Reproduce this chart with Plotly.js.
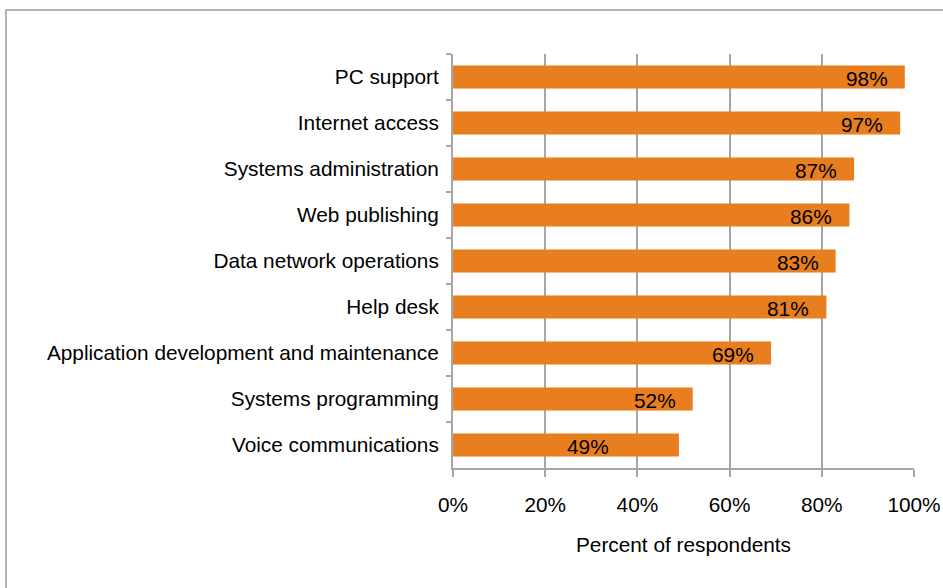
<!DOCTYPE html>
<html>
<head>
<meta charset="utf-8">
<script src="https://cdn.plot.ly/plotly-3.0.1.min.js"></script>
<style>
  html, body { margin: 0; padding: 0; background: #fff; }
  #frame { position: absolute; left: 5px; top: 9px; width: 1000px; height: 700px; border: 2px solid #b4b4b4; box-sizing: border-box; }
  #chart { position: absolute; left: 0; top: 0; width: 943px; height: 588px; }
</style>
</head>
<body>
<div id="frame"></div>
<div id="chart"></div>
<script>
const categories = [
  "PC support",
  "Internet access",
  "Systems administration",
  "Web publishing",
  "Data network operations",
  "Help desk",
  "Application development and maintenance",
  "Systems programming",
  "Voice communications"
];
const values = [98, 97, 87, 86, 83, 81, 69, 52, 49];
const valueLabels = ["98%", "97%", "87%", "86%", "83%", "81%", "69%", "52%", "49%"];
const xTickValues = [0, 20, 40, 60, 80, 100];
const xTickLabels = ["0%", "20%", "40%", "60%", "80%", "100%"];

// style: horizontal pixel shift of each value label from its bar end
const labelShift = [-15, -15, -15, -15, -15, -15, -15, -15, -68];

const FONT = "Liberation Sans, Arial, sans-serif";
const FS = 20.8;
const GRID = "#a6a6a6";

const trace = {
  type: "bar",
  orientation: "h",
  y: categories,
  x: values,
  marker: { color: "#e87e1e", line: { width: 0 } },
  hoverinfo: "skip"
};

const annotations = categories.map((c, i) => ({
  x: values[i], y: c, xref: "x", yref: "y",
  text: valueLabels[i], showarrow: false,
  xanchor: "right", yanchor: "middle", xshift: labelShift[i], yshift: -1,
  font: { family: FONT, size: FS, color: "#000" }
}));

const layout = {
  width: 943, height: 588, autosize: false,
  margin: { l: 453, r: 29, t: 54, b: 120, pad: 0 },
  paper_bgcolor: "rgba(0,0,0,0)",
  plot_bgcolor: "rgba(0,0,0,0)",
  showlegend: false,
  bargap: 0.5,
  font: { family: FONT, size: FS, color: "#000" },
  xaxis: {
    range: [0, 100], fixedrange: true,
    tickvals: xTickValues, ticktext: xTickLabels,
    showgrid: true, gridcolor: GRID, gridwidth: 2,
    showline: true, linecolor: GRID, linewidth: 2,
    zeroline: false,
    ticks: "outside", ticklen: 7, tickwidth: 2, tickcolor: GRID,
    ticklabelstandoff: 10,
    tickfont: { family: FONT, size: FS, color: "#000" },
    title: { text: "Percent of respondents", standoff: 22, font: { family: FONT, size: FS, color: "#000" } },
    automargin: false
  },
  yaxis: {
    type: "category",
    categoryorder: "array", categoryarray: categories,
    autorange: "reversed", fixedrange: true,
    showgrid: false, zeroline: false,
    showline: true, linecolor: GRID, linewidth: 2,
    ticks: "outside", ticklen: 5, tickwidth: 2, tickcolor: GRID,
    tickson: "boundaries",
    ticklabelstandoff: 8,
    tickfont: { family: FONT, size: FS, color: "#000" },
    automargin: false
  },
  annotations: annotations
};

Plotly.newPlot("chart", [trace], layout, { staticPlot: true, displayModeBar: false });
</script>
</body>
</html>
